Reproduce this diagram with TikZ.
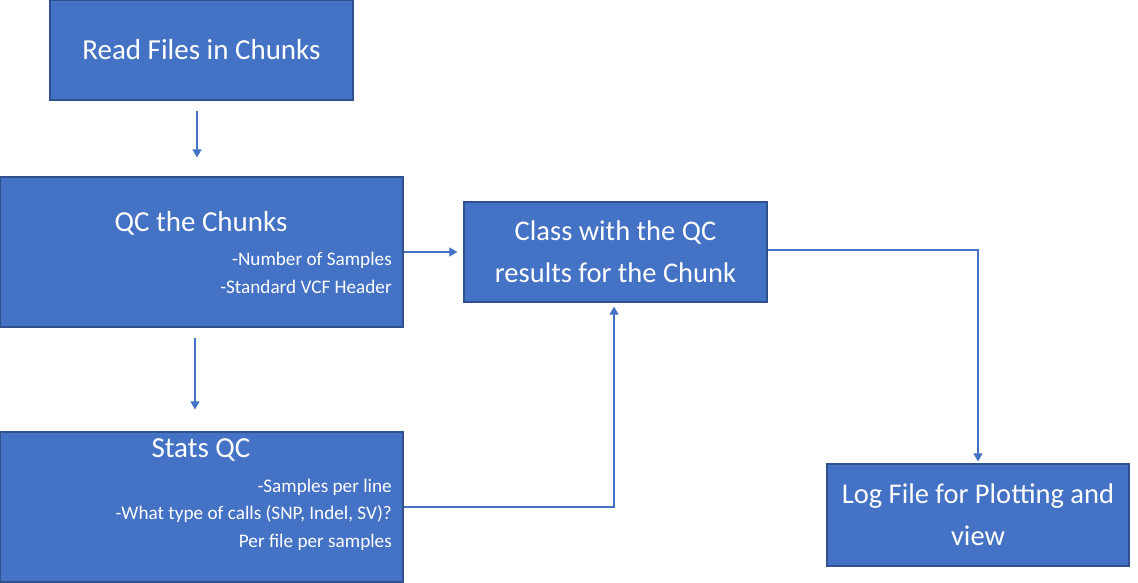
\documentclass[tikz,border=0pt]{standalone}
\usepackage{fontspec}
\setmainfont{Carlito}
\usetikzlibrary{arrows.meta}
\definecolor{boxblue}{HTML}{4472C4}
\definecolor{edgeblue}{HTML}{2F528F}
\begin{document}
\begin{tikzpicture}[x=1pt,y=-1pt,
  box/.style={draw=edgeblue, line width=1.2pt, fill=boxblue, text=white, inner sep=0pt, align=center},
  bigtext/.style={font=\fontsize{28.5}{42}\selectfont},
  subtext/.style={text=white, anchor=east, inner sep=0pt, font=\fontsize{19.2}{23}\selectfont},
  conn/.style={draw=boxblue, line width=1.1pt, -{Triangle[length=8pt,width=9pt]}}]
\useasboundingbox (0,0) rectangle (1138,583);
\node[box, minimum width=303pt, minimum height=100pt, font=\fontsize{29}{34}\selectfont] (read) at (201.5,50) {Read Files in Chunks};
\node[box, minimum width=403pt, minimum height=150pt] (qc) at (201.5,252) {};
\node[box, minimum width=303pt, minimum height=100pt, bigtext] (class) at (615.5,252) {Class with the QC\\results for the Chunk};
\node[box, minimum width=403pt, minimum height=150pt] (stats) at (201.5,507) {};
\node[box, minimum width=302pt, minimum height=102pt, bigtext] (log) at (978,515) {Log File for Plotting and\\view};
% texts inside QC box
\node[text=white, inner sep=0pt, font=\fontsize{29}{34}\selectfont] (qctitle) at (201,223) {QC the Chunks};
\node[subtext] (qc1) at (392,260) {-Number of Samples};
\node[subtext] (qc2) at (392,287) {-Standard VCF Header};
% texts inside Stats box
\node[text=white, inner sep=0pt, font=\fontsize{29}{34}\selectfont] (sttitle) at (201,450) {Stats QC};
\node[subtext] (st1) at (392,487) {-Samples per line};
\node[subtext] (st2) at (392,514) {-What type of calls (SNP, Indel, SV)?};
\node[subtext] (st3) at (392,542) {Per file per samples};
% connectors
\draw[conn] ([xshift=-4.5pt,yshift=-10pt]read.south) -- ([xshift=-4.5pt,yshift=19pt]qc.north);
\draw[conn] (qc.east) -- ([xshift=-6pt]class.west);
\draw[conn] ([xshift=-6.5pt,yshift=-10pt]qc.south) -- ([xshift=-6.5pt,yshift=22pt]stats.north);
\draw[conn] (stats.east) -| ([xshift=-1.5pt,yshift=-4pt]class.south);
\draw[conn] ([yshift=2pt]class.east) -| ([yshift=2pt]log.north);
\end{tikzpicture}
\end{document}
